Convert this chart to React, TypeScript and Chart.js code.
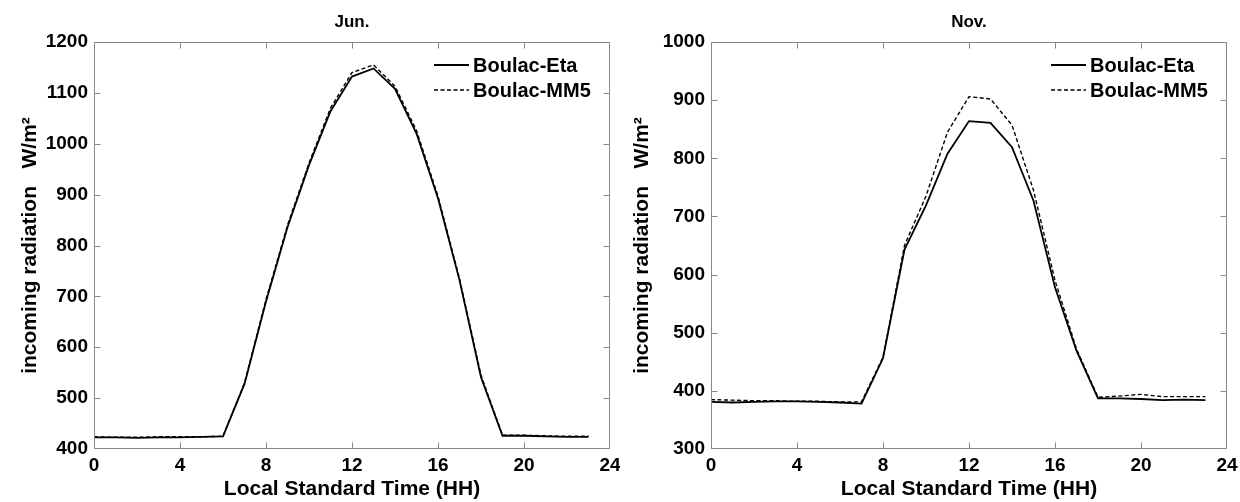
import React, { useEffect, useRef } from "react";
import { Chart, registerables } from "chart.js";

Chart.register(...registerables);

// ---------- data ----------
const hours = [0, 1, 2, 3, 4, 5, 6, 7, 8, 9, 10, 11, 12, 13, 14, 15, 16, 17, 18, 19, 20, 21, 22, 23];
const seriesNames = ["Boulac-Eta", "Boulac-MM5"];

const junEta = [423, 423, 422, 423, 423, 424, 425, 528, 690, 836, 958, 1064, 1132, 1148, 1108, 1020, 893, 732, 541, 426, 426, 425, 424, 424];
const junMM5 = [424, 423, 423, 424, 424, 424, 425, 530, 694, 840, 962, 1070, 1140, 1155, 1113, 1026, 897, 735, 545, 427, 427, 426, 425, 425];

const novEta = [381, 380, 381, 382, 382, 381, 380, 378, 456, 643, 719, 808, 864, 861, 819, 727, 578, 469, 387, 387, 386, 384, 385, 384];
const novMM5 = [385, 384, 383, 383, 382, 382, 381, 381, 458, 650, 735, 845, 906, 902, 857, 745, 590, 472, 389, 391, 394, 390, 390, 390];

const xTicks = [0, 4, 8, 12, 16, 20, 24];
const junYTicks = [400, 500, 600, 700, 800, 900, 1000, 1100, 1200];
const novYTicks = [300, 400, 500, 600, 700, 800, 900, 1000];

const xTitle = "Local Standard Time (HH)";
const yTitle = "incoming radiation   W/m\u00B2";

const FONT = "'Liberation Sans', Arial, Helvetica, sans-serif";

type PanelProps = {
  title: string;
  eta: number[];
  mm5: number[];
  yTicks: number[];
  yAxisWidth: number;
  yTitlePad: number;
  rightPad: number;
};

function decorPlugin(yTicks: number[]) {
  return {
    id: "decor",
    afterDatasetsDraw(chart: any) {
      const { ctx, chartArea: a, scales } = chart;
      ctx.save();
      // frame
      ctx.strokeStyle = "#8a8a8a";
      ctx.lineWidth = 1;
      ctx.setLineDash([]);
      const L = Math.round(a.left) + 0.5;
      const R = Math.round(a.right) - 0.5;
      const T = Math.round(a.top) + 0.5;
      const B = Math.round(a.bottom) - 0.5;
      ctx.strokeRect(L, T, R - L, B - T);
      const tl = 6;
      ctx.beginPath();
      xTicks.forEach((v, i) => {
        if (i === 0 || i === xTicks.length - 1) return;
        const px = Math.round(scales.x.getPixelForValue(v)) + 0.5;
        ctx.moveTo(px, B);
        ctx.lineTo(px, B - tl);
        ctx.moveTo(px, T);
        ctx.lineTo(px, T + tl);
      });
      yTicks.forEach((v, i) => {
        if (i === 0 || i === yTicks.length - 1) return;
        const py = Math.round(scales.y.getPixelForValue(v)) + 0.5;
        ctx.moveTo(L, py);
        ctx.lineTo(L + tl, py);
        ctx.moveTo(R, py);
        ctx.lineTo(R - tl, py);
      });
      ctx.stroke();

      // legend
      ctx.fillStyle = "#000";
      ctx.font = `bold 20px ${FONT}`;
      ctx.textBaseline = "middle";
      ctx.textAlign = "left";
      const rows = [a.top + 23, a.top + 48];
      seriesNames.forEach((name, i) => {
        const y = rows[i];
        ctx.strokeStyle = "#000";
        ctx.lineWidth = i === 0 ? 1.8 : 1.4;
        ctx.setLineDash(i === 0 ? [] : [4, 2.5]);
        ctx.beginPath();
        ctx.moveTo(a.right - 176, y);
        ctx.lineTo(a.right - 141, y);
        ctx.stroke();
        ctx.setLineDash([]);
        ctx.fillText(name, a.right - 137, y + 1);
      });
      ctx.restore();
    },
  };
}

function Panel({ title, eta, mm5, yTicks, yAxisWidth, yTitlePad, rightPad }: PanelProps) {
  const ref = useRef<HTMLCanvasElement | null>(null);
  useEffect(() => {
    if (!ref.current) return;
    const tickFont = { family: FONT, size: 19, weight: "bold" as const };
    const titleFont = { family: FONT, size: 21, weight: "bold" as const };
    const chart = new Chart(ref.current, {
      type: "line",
      data: {
        datasets: [
          {
            label: seriesNames[0],
            data: hours.map((h, i) => ({ x: h, y: eta[i] })),
            borderColor: "#000",
            borderWidth: 1.8,
            pointRadius: 0,
            tension: 0,
            fill: false,
          },
          {
            label: seriesNames[1],
            data: hours.map((h, i) => ({ x: h, y: mm5[i] })),
            borderColor: "#000",
            borderWidth: 1.4,
            borderDash: [4, 2.5],
            pointRadius: 0,
            tension: 0,
            fill: false,
          },
        ],
      },
      options: {
        animation: false,
        responsive: false,
        devicePixelRatio: 1,
        layout: { padding: { left: 0, right: rightPad, top: 0, bottom: 0 } },
        plugins: {
          legend: { display: false },
          tooltip: { enabled: false },
          title: {
            display: true,
            text: title,
            fullSize: false,
            color: "#000",
            font: { family: FONT, size: 17, weight: "bold" },
            padding: { top: 11.8, bottom: 9.8 },
          },
        },
        scales: {
          x: {
            type: "linear",
            min: 0,
            max: 24,
            afterBuildTicks: (s: any) => {
              s.ticks = xTicks.map((v) => ({ value: v }));
            },
            afterFit: (s: any) => {
              s.height = 53;
              s.paddingLeft = 0;
              s.paddingRight = 0;
            },
            grid: { display: false, drawTicks: false },
            border: { display: false },
            ticks: {
              color: "#000",
              font: tickFont,
              padding: 5,
              maxRotation: 0,
              autoSkip: false,
              callback: (v: any) => String(v),
            },
            title: {
              display: true,
              text: xTitle,
              color: "#000",
              font: titleFont,
              padding: { top: 0, bottom: 0 },
            },
          },
          y: {
            type: "linear",
            min: yTicks[0],
            max: yTicks[yTicks.length - 1],
            afterBuildTicks: (s: any) => {
              s.ticks = yTicks.map((v) => ({ value: v }));
            },
            afterFit: (s: any) => {
              s.width = yAxisWidth;
            },
            grid: { display: false, drawTicks: false },
            border: { display: false },
            ticks: {
              color: "#000",
              font: tickFont,
              padding: 6,
              autoSkip: false,
              callback: (v: any) => String(v),
            },
            title: {
              display: true,
              text: yTitle,
              color: "#000",
              font: titleFont,
              padding: { top: yTitlePad, bottom: 0 },
            },
          },
        },
      },
      plugins: [decorPlugin(yTicks)],
    } as any);
    return () => chart.destroy();
  }, []);
  return <canvas ref={ref} width={620} height={502} style={{ width: 620, height: 502, display: "block" }} />;
}

export default function App() {
  return (
    <div style={{ position: "absolute", left: 0, top: 0, width: 1240, height: 502, display: "flex", background: "#fff" }}>
      <Panel title="Jun." eta={junEta} mm5={junMM5} yTicks={junYTicks} yAxisWidth={94} yTitlePad={18} rightPad={10} />
      <Panel title="Nov." eta={novEta} mm5={novMM5} yTicks={novYTicks} yAxisWidth={91} yTitlePad={10} rightPad={13} />
    </div>
  );
}
